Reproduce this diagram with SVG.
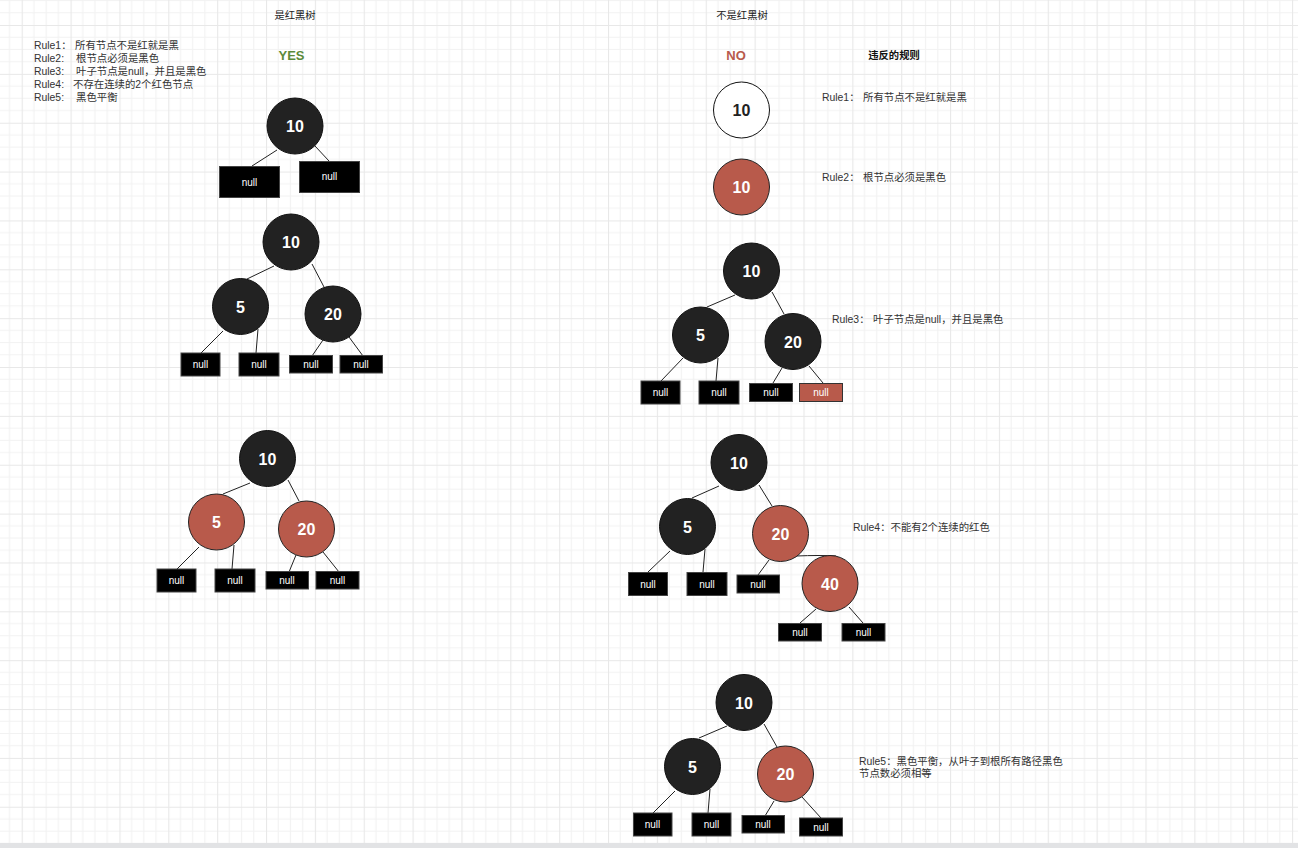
<svg xmlns="http://www.w3.org/2000/svg" width="1298" height="848" viewBox="0 0 1298 848">
<defs>
<pattern id="grid" patternUnits="userSpaceOnUse" x="21.7" y="25" width="48.86" height="48.86">
<path d="M12.215 0V48.86M24.43 0V48.86M36.645 0V48.86M0 12.215H48.86M0 24.43H48.86M0 36.645H48.86" stroke="#f2f2f2" stroke-width="1.2" fill="none"/>
<path d="M0.5 0V48.86M0 0.5H48.86" stroke="#e8e8e8" stroke-width="1.2" fill="none"/>
</pattern>
<style>
.t{font-family:"Liberation Sans","Noto Sans CJK SC",sans-serif;fill:#333;font-size:10.4px}
.h{font-family:"Liberation Sans","Noto Sans CJK SC",sans-serif;fill:#222;font-size:10.3px;text-anchor:middle}
.b{font-family:"Liberation Sans","Noto Sans CJK SC",sans-serif;font-weight:bold;text-anchor:middle}
.blk{fill:#222222;stroke:#111;stroke-width:1}
.red{fill:#b85a4b;stroke:#222;stroke-width:1}
.wht{fill:#ffffff;stroke:#111;stroke-width:1}
.num{font-family:"Liberation Sans",sans-serif;font-weight:bold;font-size:16px;fill:#fff;text-anchor:middle}
.numd{font-family:"Liberation Sans",sans-serif;font-weight:bold;font-size:16px;fill:#222;text-anchor:middle}
.nb{fill:#000;stroke:#444;stroke-width:1}
.nr{fill:#b85a4b;stroke:#333;stroke-width:1}
.nt{font-family:"Liberation Sans",sans-serif;font-size:10px;fill:#fff;text-anchor:middle}
.e{stroke:#222;stroke-width:1;fill:none}
</style>
</defs>
<rect width="1298" height="848" fill="#ffffff"/>
<rect width="1298" height="848" fill="url(#grid)"/>
<rect x="0" y="843" width="1298" height="5" fill="#e2e3e5"/>

<g id="labels">
<text class="h" x="295" y="19">是红黑树</text>
<text class="h" x="742" y="19">不是红黑树</text>
<text class="b" x="291.5" y="60" font-size="13" fill="#5b8a3a">YES</text>
<text class="b" x="736" y="60" font-size="13" fill="#b85a4b">NO</text>
<text class="b" x="894" y="59" font-size="10.3" fill="#111">违反的规则</text>
<text class="t" x="34" y="49">Rule1：<tspan x="75">所有节点不是红就是黑</tspan></text>
<text class="t" x="34" y="62">Rule2:<tspan x="76">根节点必须是黑色</tspan></text>
<text class="t" x="34" y="75">Rule3:<tspan x="76">叶子节点是null，并且是黑色</tspan></text>
<text class="t" x="34" y="88">Rule4:<tspan x="73">不存在连续的2个红色节点</tspan></text>
<text class="t" x="34" y="101">Rule5:<tspan x="76">黑色平衡</tspan></text>
<text class="t" x="822" y="101">Rule1：<tspan x="863">所有节点不是红就是黑</tspan></text>
<text class="t" x="822" y="181">Rule2：<tspan x="863">根节点必须是黑色</tspan></text>
<text class="t" x="832" y="323">Rule3：<tspan x="873">叶子节点是null，并且是黑色</tspan></text>
<text class="t" x="853" y="531">Rule4：不能有2个连续的红色</text>
<text class="t" x="859" y="765">Rule5：黑色平衡，从叶子到根所有路径黑色</text>
<text class="t" x="859" y="777">节点数必须相等</text>
</g>

<g id="connectors">
<line class="e" x1="277" y1="150" x2="252" y2="166"/>
<line class="e" x1="315" y1="146" x2="329" y2="161"/>
<line class="e" x1="274" y1="266" x2="247" y2="279"/>
<line class="e" x1="312" y1="264" x2="324" y2="287"/>
<line class="e" x1="223" y1="331" x2="201" y2="353"/>
<line class="e" x1="258" y1="329" x2="256" y2="353"/>
<line class="e" x1="323" y1="340" x2="312" y2="356"/>
<line class="e" x1="349" y1="337" x2="363" y2="356"/>
<line class="e" x1="250" y1="483" x2="223" y2="494"/>
<line class="e" x1="288" y1="480" x2="299" y2="501"/>
<line class="e" x1="199" y1="547" x2="177" y2="569"/>
<line class="e" x1="234" y1="545" x2="232" y2="569"/>
<line class="e" x1="296" y1="555" x2="289" y2="572"/>
<line class="e" x1="323" y1="552" x2="339" y2="572"/>
<line class="e" x1="735" y1="295" x2="707" y2="307"/>
<line class="e" x1="772" y1="292" x2="784" y2="314"/>
<line class="e" x1="683" y1="358" x2="661" y2="381"/>
<line class="e" x1="718" y1="358" x2="716" y2="381"/>
<line class="e" x1="782" y1="368" x2="773" y2="383"/>
<line class="e" x1="809" y1="366" x2="823" y2="383"/>
<line class="e" x1="719" y1="486" x2="692" y2="498"/>
<line class="e" x1="759" y1="485" x2="772" y2="506"/>
<line class="e" x1="670" y1="551" x2="648" y2="572"/>
<line class="e" x1="705" y1="549" x2="703" y2="572"/>
<line class="e" x1="769" y1="560" x2="758" y2="575"/>
<path class="e" d="M796 556 Q820 555 836 556"/>
<line class="e" x1="816" y1="609" x2="800" y2="623"/>
<line class="e" x1="849" y1="607" x2="863" y2="623"/>
<line class="e" x1="727" y1="726" x2="699" y2="738"/>
<line class="e" x1="764" y1="724" x2="777" y2="747"/>
<line class="e" x1="675" y1="791" x2="653" y2="813"/>
<line class="e" x1="710" y1="789" x2="708" y2="813"/>
<line class="e" x1="774" y1="801" x2="765" y2="816"/>
<line class="e" x1="802" y1="797" x2="821" y2="818"/>
</g>

<g id="t1-n10"><circle class="blk" cx="295" cy="126" r="28"/><text class="num" x="295" y="132">10</text></g>
<g id="t1-null1"><rect class="nb" x="219.5" y="166.5" width="60" height="31"/><text class="nt" x="249.5" y="186">null</text></g>
<g id="t1-null2"><rect class="nb" x="299.5" y="161.5" width="60" height="31"/><text class="nt" x="329.5" y="180">null</text></g>

<g id="t2-n10"><circle class="blk" cx="291" cy="242" r="28"/><text class="num" x="291" y="248">10</text></g>
<g id="t2-n5"><circle class="blk" cx="240.5" cy="306.5" r="28"/><text class="num" x="240.5" y="312.5">5</text></g>
<g id="t2-n20"><circle class="blk" cx="333" cy="314" r="28"/><text class="num" x="333" y="320">20</text></g>
<g id="t2-null1"><rect class="nb" x="181" y="353" width="39" height="23"/><text class="nt" x="200.5" y="368">null</text></g>
<g id="t2-null2"><rect class="nb" x="239" y="353" width="40" height="23"/><text class="nt" x="259" y="368">null</text></g>
<g id="t2-null3"><rect class="nb" x="289.5" y="355.5" width="43" height="17.5"/><text class="nt" x="311" y="368">null</text></g>
<g id="t2-null4"><rect class="nb" x="340" y="355.5" width="42.5" height="17.5"/><text class="nt" x="361" y="368">null</text></g>

<g id="t3-n10"><circle class="blk" cx="267.5" cy="458.5" r="28"/><text class="num" x="267.5" y="464.5">10</text></g>
<g id="t3-n5"><circle class="red" cx="216.5" cy="522" r="28"/><text class="num" x="216.5" y="528">5</text></g>
<g id="t3-n20"><circle class="red" cx="306.5" cy="529" r="28"/><text class="num" x="306.5" y="535">20</text></g>
<g id="t3-null1"><rect class="nb" x="157" y="569" width="39" height="23"/><text class="nt" x="176.5" y="584">null</text></g>
<g id="t3-null2"><rect class="nb" x="215" y="569" width="40" height="23"/><text class="nt" x="235" y="584">null</text></g>
<g id="t3-null3"><rect class="nb" x="266" y="571.5" width="42.5" height="17.5"/><text class="nt" x="287" y="584">null</text></g>
<g id="t3-null4"><rect class="nb" x="316" y="571.5" width="43" height="17.5"/><text class="nt" x="337.5" y="584">null</text></g>

<g id="r1-n10"><circle class="wht" cx="741.5" cy="110" r="28"/><text class="numd" x="741.5" y="116">10</text></g>
<g id="r2-n10"><circle class="red" cx="741.5" cy="187" r="28"/><text class="num" x="741.5" y="193">10</text></g>

<g id="r3-n10"><circle class="blk" cx="751.5" cy="271" r="28"/><text class="num" x="751.5" y="277">10</text></g>
<g id="r3-n5"><circle class="blk" cx="700.5" cy="335" r="28"/><text class="num" x="700.5" y="341">5</text></g>
<g id="r3-n20"><circle class="blk" cx="793" cy="341.5" r="28"/><text class="num" x="793" y="347.5">20</text></g>
<g id="r3-null1"><rect class="nb" x="641" y="381" width="39" height="23"/><text class="nt" x="660.5" y="396">null</text></g>
<g id="r3-null2"><rect class="nb" x="699" y="381" width="40" height="23"/><text class="nt" x="719" y="396">null</text></g>
<g id="r3-null3"><rect class="nb" x="749.5" y="383.5" width="43" height="18"/><text class="nt" x="771" y="396">null</text></g>
<g id="r3-null4"><rect class="nr" x="799.5" y="383.5" width="43" height="18"/><text class="nt" x="821" y="396">null</text></g>

<g id="r4-n10"><circle class="blk" cx="739" cy="462.5" r="28"/><text class="num" x="739" y="468.5">10</text></g>
<g id="r4-n5"><circle class="blk" cx="687.5" cy="526.5" r="28"/><text class="num" x="687.5" y="532.5">5</text></g>
<g id="r4-n20"><circle class="red" cx="780.5" cy="533.5" r="28"/><text class="num" x="780.5" y="539.5">20</text></g>
<g id="r4-n40"><circle class="red" cx="830" cy="583.5" r="28"/><text class="num" x="830" y="589.5">40</text></g>
<g id="r4-null1"><rect class="nb" x="628.5" y="572.5" width="39" height="23"/><text class="nt" x="648" y="587.5">null</text></g>
<g id="r4-null2"><rect class="nb" x="687" y="572.5" width="40" height="23"/><text class="nt" x="707" y="587.5">null</text></g>
<g id="r4-null3"><rect class="nb" x="737" y="575" width="42.5" height="18"/><text class="nt" x="758" y="587.5">null</text></g>
<g id="r4-null4"><rect class="nb" x="778.5" y="623.5" width="43" height="17.5"/><text class="nt" x="800" y="636">null</text></g>
<g id="r4-null5"><rect class="nb" x="842" y="623.5" width="43" height="17.5"/><text class="nt" x="863.5" y="636">null</text></g>

<g id="r5-n10"><circle class="blk" cx="744" cy="702.5" r="28"/><text class="num" x="744" y="708.5">10</text></g>
<g id="r5-n5"><circle class="blk" cx="692.5" cy="766.5" r="28"/><text class="num" x="692.5" y="772.5">5</text></g>
<g id="r5-n20"><circle class="red" cx="785.5" cy="774" r="28"/><text class="num" x="785.5" y="780">20</text></g>
<g id="r5-null1"><rect class="nb" x="633.5" y="813" width="38.5" height="23"/><text class="nt" x="652.5" y="828">null</text></g>
<g id="r5-null2"><rect class="nb" x="692" y="813" width="39" height="23"/><text class="nt" x="711.5" y="828">null</text></g>
<g id="r5-null3"><rect class="nb" x="742" y="815.5" width="42.5" height="17.5"/><text class="nt" x="763" y="828">null</text></g>
<g id="r5-null4"><rect class="nb" x="799.5" y="818" width="43" height="18"/><text class="nt" x="821" y="831">null</text></g>
</svg>
